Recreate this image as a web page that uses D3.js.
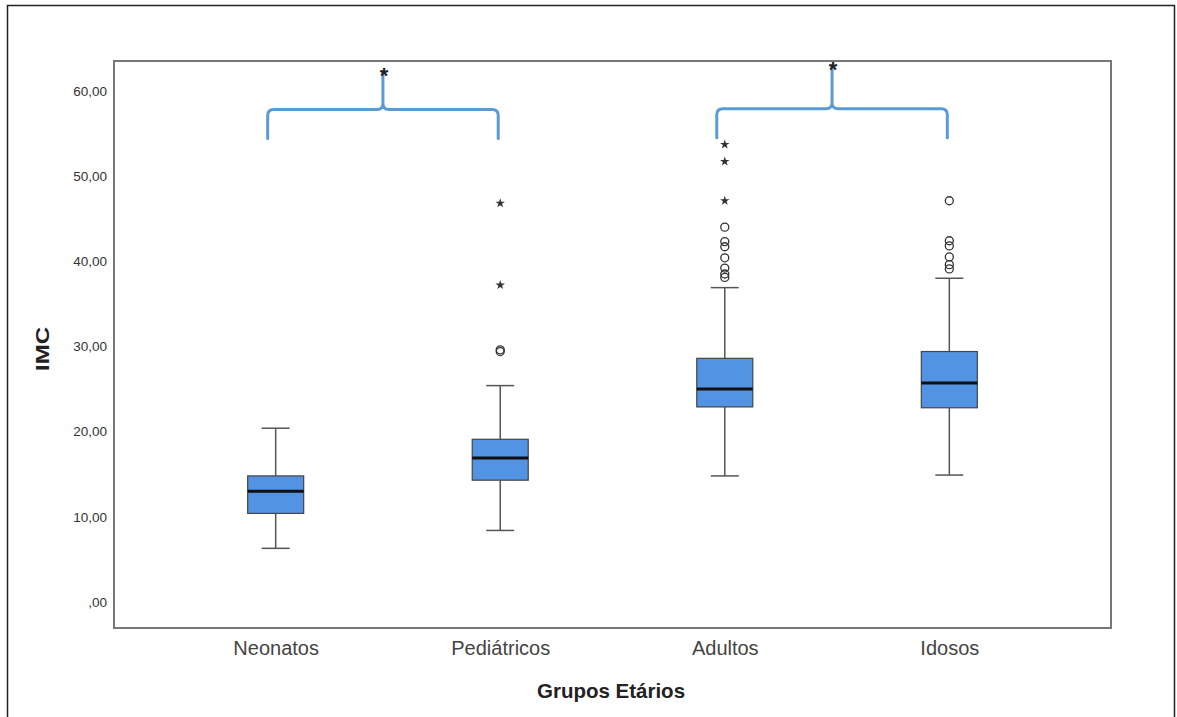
<!DOCTYPE html>
<html>
<head>
<meta charset="utf-8">
<script src="https://cdn.jsdelivr.net/npm/d3@7"></script>
<style>
  body { margin: 0; background: #fff; }
  svg { display: block; font-family: "Liberation Sans", Arial, sans-serif; }
</style>
</head>
<body>
<svg id="chart" width="1177" height="717"></svg>
<script>
// categories and box stats
var groups = ["Neonatos", "Pediátricos", "Adultos", "Idosos"];
var whiskerLow = [6.3, 8.4, 14.8, 14.9];
var q1 = [10.4, 14.3, 22.9, 22.8];
var median = [13.0, 16.9, 25.0, 25.7];
var q3 = [14.8, 19.1, 28.6, 29.4];
var whiskerHigh = [20.4, 25.4, 36.9, 38.0];

// outliers: circles (mild) and stars (extreme)
var circleOutliers = [
    { g: "Pediátricos", v: 29.4 },
    { g: "Pediátricos", v: 29.6 },
    { g: "Adultos", v: 44.0 },
    { g: "Adultos", v: 42.3 },
    { g: "Adultos", v: 41.7 },
    { g: "Adultos", v: 40.4 },
    { g: "Adultos", v: 39.2 },
    { g: "Adultos", v: 38.5 },
    { g: "Adultos", v: 38.1 },
    { g: "Idosos", v: 47.1 },
    { g: "Idosos", v: 42.4 },
    { g: "Idosos", v: 41.8 },
    { g: "Idosos", v: 40.5 },
    { g: "Idosos", v: 39.6 },
    { g: "Idosos", v: 39.1 }
];
var starOutliers = [
    { g: "Pediátricos", v: 37.2 },
    { g: "Pediátricos", v: 46.8 },
    { g: "Adultos", v: 53.7 },
    { g: "Adultos", v: 51.7 },
    { g: "Adultos", v: 47.1 }
];

var yTicks = [0, 10, 20, 30, 40, 50, 60];

// significance braces: from group, to group
var braces = [
    { from: "Neonatos", to: "Pediátricos", base: 54.4, level: 57.8, tip: 62.3 },
    { from: "Adultos", to: "Idosos", base: 54.5, level: 57.9, tip: 63.0 }
];

var svg = d3.select("#chart");

// outer border
svg.append("rect")
    .attr("x", 7.5).attr("y", 5.5)
    .attr("width", 1167).attr("height", 720)
    .attr("fill", "none").attr("stroke", "#222").attr("stroke-width", 1.5);

var plotLeft = 114, plotRight = 1111, plotTop = 61, plotBottom = 628;

var x = d3.scalePoint()
    .domain(groups)
    .range([plotLeft, plotRight])
    .padding(0.72);

var y = d3.scaleLinear()
    .domain([-3.05, 63.5])
    .range([plotBottom, plotTop]);

var fmt = function(d) {
    return d === 0 ? ",00" : d3.format(".2f")(d).replace(".", ",");
};

// y axis labels (no tick marks)
var yAxis = d3.axisLeft(y).tickValues(yTicks).tickSize(0).tickPadding(7).tickFormat(fmt);
svg.append("g")
    .attr("transform", "translate(" + plotLeft + ",0)")
    .call(yAxis)
    .call(function(g) { g.select(".domain").remove(); })
    .selectAll("text")
    .attr("font-size", "13.5px")
    .attr("fill", "#333")
    .attr("font-family", "Liberation Sans, Arial, sans-serif");

// x axis labels
var xAxis = d3.axisBottom(x).tickSize(0).tickPadding(13);
svg.append("g")
    .attr("transform", "translate(0," + plotBottom + ")")
    .call(xAxis)
    .call(function(g) { g.select(".domain").remove(); })
    .selectAll("text")
    .attr("font-size", "20px")
    .attr("fill", "#444")
    .attr("font-family", "Liberation Sans, Arial, sans-serif");

// axis titles
svg.append("text")
    .attr("transform", "translate(49,349) rotate(-90)")
    .attr("text-anchor", "middle")
    .attr("font-size", "19px")
    .attr("font-weight", "bold")
    .attr("fill", "#222")
    .attr("textLength", 44)
    .attr("lengthAdjust", "spacingAndGlyphs")
    .text("IMC");

svg.append("text")
    .attr("x", 611).attr("y", 698)
    .attr("text-anchor", "middle")
    .attr("font-size", "20.5px")
    .attr("font-weight", "bold")
    .attr("fill", "#222")
    .text("Grupos Etários");

var boxW = 56, capW = 28;

var boxes = svg.append("g").selectAll("g")
    .data(groups)
    .enter()
    .append("g");

// whisker stems
boxes.append("line")
    .attr("x1", function(d) { return x(d); })
    .attr("x2", function(d) { return x(d); })
    .attr("y1", function(d, i) { return y(whiskerLow[i]); })
    .attr("y2", function(d, i) { return y(q1[i]); })
    .attr("stroke", "#555").attr("stroke-width", 1.5);
boxes.append("line")
    .attr("x1", function(d) { return x(d); })
    .attr("x2", function(d) { return x(d); })
    .attr("y1", function(d, i) { return y(q3[i]); })
    .attr("y2", function(d, i) { return y(whiskerHigh[i]); })
    .attr("stroke", "#555").attr("stroke-width", 1.5);

// caps
[whiskerLow, whiskerHigh].forEach(function(arr) {
    boxes.append("line")
        .attr("x1", function(d) { return x(d) - capW / 2; })
        .attr("x2", function(d) { return x(d) + capW / 2; })
        .attr("y1", function(d, i) { return y(arr[i]); })
        .attr("y2", function(d, i) { return y(arr[i]); })
        .attr("stroke", "#555").attr("stroke-width", 1.5);
});

// boxes
boxes.append("rect")
    .attr("x", function(d) { return x(d) - boxW / 2; })
    .attr("y", function(d, i) { return y(q3[i]); })
    .attr("width", boxW)
    .attr("height", function(d, i) { return y(q1[i]) - y(q3[i]); })
    .attr("fill", "#5293e3")
    .attr("stroke", "#444").attr("stroke-width", 1.2);

// medians
boxes.append("line")
    .attr("x1", function(d) { return x(d) - boxW / 2; })
    .attr("x2", function(d) { return x(d) + boxW / 2; })
    .attr("y1", function(d, i) { return y(median[i]); })
    .attr("y2", function(d, i) { return y(median[i]); })
    .attr("stroke", "#111").attr("stroke-width", 3);

// circle outliers
svg.append("g").selectAll("circle")
    .data(circleOutliers)
    .enter()
    .append("circle")
    .attr("cx", function(d) { return x(d.g); })
    .attr("cy", function(d) { return y(d.v); })
    .attr("r", 4)
    .attr("fill", "none")
    .attr("stroke", "#333").attr("stroke-width", 1.3);

// star outliers
var star = d3.symbol().type(d3.symbolStar).size(28);
svg.append("g").selectAll("path")
    .data(starOutliers)
    .enter()
    .append("path")
    .attr("d", star)
    .attr("transform", function(d) { return "translate(" + x(d.g) + "," + y(d.v) + ")"; })
    .attr("fill", "#333");

// braces
braces.forEach(function(b) {
    var x0 = x(b.from) - 8, x1 = x(b.to) - 2;
    var xm = (x0 + x1) / 2;
    var yb = y(b.base), yl = y(b.level), yt = y(b.tip);
    var r = 6;
    var p = d3.path();
    p.moveTo(x0, yb);
    p.lineTo(x0, yl + r);
    p.quadraticCurveTo(x0, yl, x0 + r, yl);
    p.lineTo(xm - r, yl);
    p.quadraticCurveTo(xm, yl, xm, yl - r);
    p.lineTo(xm, yt);
    p.moveTo(xm, yl - r);
    p.quadraticCurveTo(xm, yl, xm + r, yl);
    p.lineTo(x1 - r, yl);
    p.quadraticCurveTo(x1, yl, x1, yl + r);
    p.lineTo(x1, yb);
    svg.append("path")
        .attr("d", p.toString())
        .attr("fill", "none")
        .attr("stroke", "#5b9bd5")
        .attr("stroke-width", 3)
        .attr("stroke-linecap", "round");
    svg.append("text")
        .attr("x", xm + 1).attr("y", yt + 12)
        .attr("text-anchor", "middle")
        .attr("font-size", "22px")
        .attr("font-weight", "bold")
        .attr("fill", "#222")
        .text("*");
});

// plot frame
svg.append("rect")
    .attr("x", plotLeft).attr("y", plotTop)
    .attr("width", plotRight - plotLeft).attr("height", plotBottom - plotTop)
    .attr("fill", "none").attr("stroke", "#777").attr("stroke-width", 2);
</script>
</body>
</html>
